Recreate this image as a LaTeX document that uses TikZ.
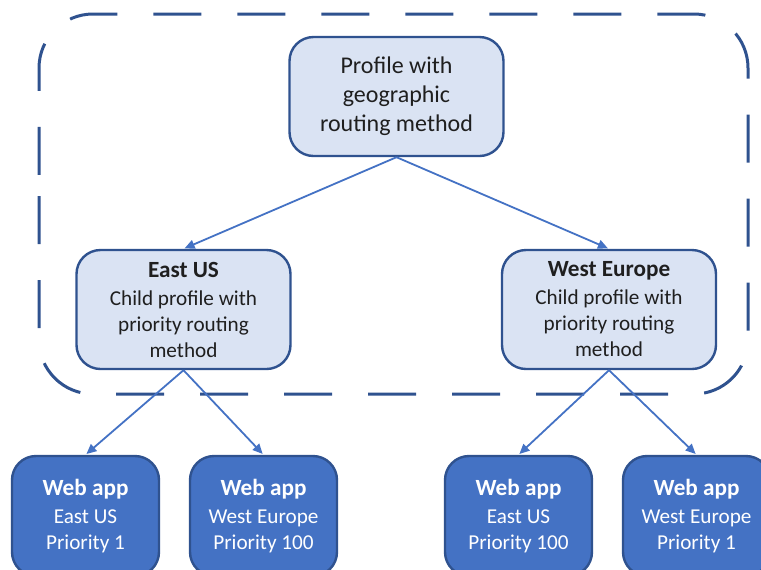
\documentclass[tikz,border=0pt]{standalone}
\usepackage{fontspec}
\setmainfont{Carlito}
\definecolor{tmInk}{HTML}{1F1F1F}
\definecolor{tmEdge}{HTML}{2F528F}
\definecolor{tmFlow}{HTML}{4472C4}
\definecolor{tmPale}{HTML}{DAE3F3}
\usetikzlibrary{arrows.meta}
\newcommand{\tmhead}[1]{{\fontsize{11.6pt}{13pt}\selectfont\bfseries #1}}

\begin{document}
\begin{tikzpicture}[x=0.5pt,y=-0.5pt,
                    font=\fontsize{10.6pt}{13pt}\selectfont,
                    profile/.style={draw=tmEdge,line width=1.2pt,fill=tmPale,
                                    text=tmInk,align=center,rounded corners=12pt,
                                    minimum width=107pt,minimum height=59.5pt},
                    webapp/.style={draw=tmEdge,line width=1.2pt,fill=tmFlow,
                                   text=white,align=center,rounded corners=12pt,
                                   minimum width=73.5pt,minimum height=60pt},
                    link/.style={-{Triangle[length=5pt,width=4.5pt]},tmFlow,
                                 line width=0.9pt,shorten >=0.6pt}]
  \useasboundingbox (0,0) rectangle (761,569);
  \clip (0,0) rectangle (761,569);
  % Dashed frame round the parent and the two child profiles.
  \draw[tmEdge,line width=1.5pt,dash pattern=on 24pt off 18pt,rounded corners=27pt]
    (39,142) -- (39,394) -- (748,394) -- (748,14) -- (39,14) -- cycle;
  \node[profile,font=\fontsize{12pt}{14.5pt}\selectfont] (geo) at (396.5,96.5)
    {Profile with\\geographic\\routing method};
  \node[profile] (eastus) at (183.5,309.5)
    {\tmhead{East US}\\[1pt]Child profile with\\priority routing\\method};
  \node[profile] (westeu) at (609,309.5)
    {\tmhead{West Europe}\\[1pt]Child profile with\\priority routing\\method};
  \node[webapp] (appa) at (85.5,516) {\tmhead{Web app}\\[1pt]East US\\Priority 1};
  \node[webapp] (appb) at (263.5,516) {\tmhead{Web app}\\[1pt]West Europe\\Priority 100};
  \node[webapp] (appc) at (518.5,516) {\tmhead{Web app}\\[1pt]East US\\Priority 100};
  \node[webapp] (appd) at (696.5,516) {\tmhead{Web app}\\[1pt]West Europe\\Priority 1};
  \draw[link] (geo.south) -- (eastus.north);
  \draw[link] (geo.south) -- (westeu.north);
  \draw[link] (eastus.south) -- (appa.north);
  \draw[link] (eastus.south) -- (appb.north);
  \draw[link] (westeu.south) -- (appc.north);
  \draw[link] (westeu.south) -- (appd.north);
\end{tikzpicture}
\end{document}
